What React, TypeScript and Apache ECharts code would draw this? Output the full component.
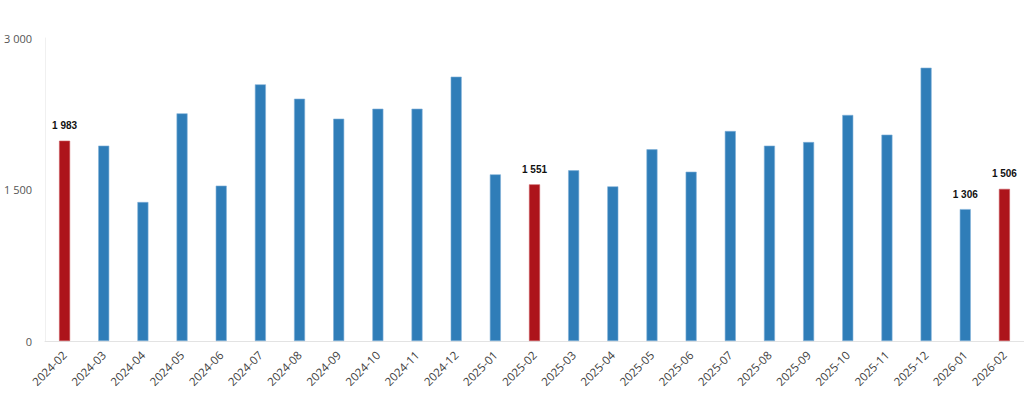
import React, { useEffect, useRef } from "react";
import * as echarts from "echarts";

const categories = [
  "2024-02", "2024-03", "2024-04", "2024-05", "2024-06", "2024-07", "2024-08",
  "2024-09", "2024-10", "2024-11", "2024-12", "2025-01", "2025-02", "2025-03",
  "2025-04", "2025-05", "2025-06", "2025-07", "2025-08", "2025-09", "2025-10",
  "2025-11", "2025-12", "2026-01", "2026-02",
];
const values = [
  1983, 1934, 1376, 2254, 1538, 2541, 2399, 2201, 2300, 2300, 2617, 1650, 1551,
  1690, 1531, 1898, 1676, 2079, 1934, 1970, 2238, 2043, 2706, 1306, 1506,
];
const highlighted = ["2024-02", "2025-02", "2026-02"];
const labelled = ["2024-02", "2025-02", "2026-01", "2026-02"];
const yTicks = [0, 1500, 3000];

const BLUE = "#2F7DB8";
const RED = "#AD141B";

const fmt = (v: number) => String(Math.round(v)).replace(/\B(?=(\d{3})+(?!\d))/g, " ");

export default function App() {
  const ref = useRef<HTMLDivElement>(null);
  useEffect(() => {
    if (!ref.current) return;
    const chart = echarts.init(ref.current, undefined, { renderer: "svg" });
    chart.setOption({
      animation: false,
      grid: { left: 45, right: 0, top: 38, bottom: 52, containLabel: false },
      xAxis: {
        type: "category",
        data: categories,
        axisLine: { lineStyle: { color: "#E3E3E3" } },
        axisTick: { show: false },
        axisLabel: {
          rotate: 45,
          interval: 0,
          color: "#404040",
          fontSize: 11.5,
          fontFamily: "Open Sans",
          margin: 12,
        },
      },
      yAxis: {
        type: "value",
        min: yTicks[0],
        max: yTicks[yTicks.length - 1],
        interval: 1500,
        axisLine: { show: true, lineStyle: { color: "#F0F0F0" } },
        axisTick: { show: false },
        splitLine: { show: false },
        axisLabel: {
          color: "#555555",
          fontSize: 11,
          fontFamily: "Open Sans",
          margin: 13,
          formatter: (v: number) => fmt(v),
        },
      },
      series: [
        {
          type: "bar",
          barWidth: 11,
          data: values.map((v, i) => {
            const c = categories[i];
            const isRed = highlighted.includes(c);
            return {
              value: v,
              itemStyle: {
                color: isRed ? RED : BLUE,
                borderColor: isRed ? "#C9585D" : "#7FB0D8",
                borderWidth: 0.6,
              },
              label: {
                show: labelled.includes(c),
                position: "top",
                distance: 10,
                formatter: (p: any) => fmt(p.value),
                color: "#111111",
                fontSize: 10,
                fontWeight: "bold",
                fontFamily: "Liberation Sans",
              },
            };
          }),
        },
      ],
    });
    return () => chart.dispose();
  }, []);
  return (
    <div
      ref={ref}
      style={{ position: "fixed", left: 0, top: 0, width: 1024, height: 393, background: "#fff" }}
    />
  );
}
